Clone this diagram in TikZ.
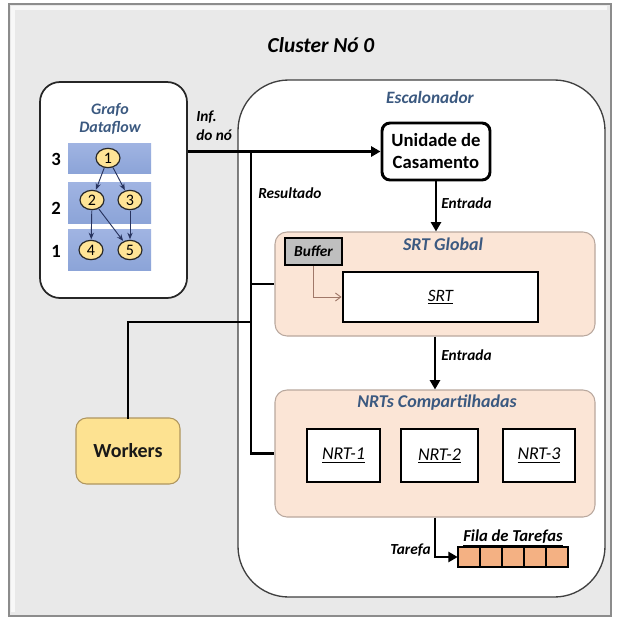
\documentclass[tikz,border=0pt]{standalone}
\usepackage{fontspec}
\setmainfont{Carlito}
\usetikzlibrary{arrows.meta,fit,shapes.geometric}
\definecolor{bgray}{RGB}{233,233,233}
\definecolor{frameline}{RGB}{140,140,140}
\definecolor{ttl}{RGB}{59,89,128}
\definecolor{peach}{RGB}{251,229,214}
\definecolor{peachb}{RGB}{185,168,158}
\definecolor{bandc}{RGB}{140,164,216}
\definecolor{bandtop}{RGB}{160,180,226}
\definecolor{ylw}{RGB}{255,228,150}
\definecolor{wkc}{RGB}{253,226,145}
\definecolor{wkb}{RGB}{175,150,95}
\definecolor{qc}{RGB}{244,177,131}
\definecolor{bufc}{RGB}{191,191,191}
\definecolor{dfarr}{RGB}{40,52,95}
\definecolor{bufarr}{RGB}{160,120,105}
\begin{document}
\begin{tikzpicture}[x=0.75pt,y=-0.75pt,
  fitbox/.style={inner sep=0pt},
  thickbox/.style={draw=black,line width=2.2pt,fill=white,inner sep=0pt},
  peachbox/.style={draw=peachb,line width=0.8pt,fill=peach,rounded corners=9pt,inner sep=0pt},
  conn/.style={line width=2.2pt,draw=black},
  arr/.style={conn,-{Triangle[length=7pt,width=7.5pt]}},
  lbl/.style={font=\fontsize{11.5}{13}\selectfont\bfseries\itshape,inner sep=0pt},
  ttlstyle/.style={font=\fontsize{13.5}{15}\selectfont\bfseries\itshape,text=ttl,inner sep=0pt},
  dfnode/.style={ellipse,draw=black!85,line width=0.9pt,fill=ylw,minimum width=18pt,minimum height=14.5pt,inner sep=0pt,font=\fontsize{12}{13}\selectfont},
  dfarrow/.style={draw=dfarr,line width=0.7pt,-{Stealth[length=5pt,width=4pt]},shorten <=0.3pt,shorten >=0.3pt},
  band/.style={top color=bandtop,bottom color=bandc,draw=none,inner sep=0pt},
  lvl/.style={font=\fontsize{14}{16}\selectfont\bfseries,inner sep=0pt},
  qcell/.style={draw=black,line width=1.3pt,fill=qc,inner sep=0pt}
]
\useasboundingbox (0,0) rectangle (617,618);
% outer frame
\node[fitbox,draw=frameline,line width=1pt,fill=bgray,fit={(9,4)(611,616)}] (frame) {};
\draw[white!70!bgray,line width=3pt] (13,612) -- (13,8) -- (607,8);
\node[font=\fontsize{16}{18}\selectfont\bfseries\itshape,inner sep=0pt] (title) at (321,45) {Cluster Nó 0};

% Escalonador
\node[fitbox,draw=black!75,line width=1pt,fill=white,rounded corners=38pt,fit={(238,80)(605,597)}] (esc) {};
\node[ttlstyle,font=\fontsize{13}{15}\selectfont\bfseries\itshape] (esct) at (430,97) {Escalonador};

% Dataflow graph box
\node[fitbox,draw=black!85,line width=1.3pt,fill=white,rounded corners=15pt,fit={(40,82)(187,298)}] (df) {};
\node[ttlstyle,font=\fontsize{12}{14}\selectfont\bfseries\itshape,align=center] (dft) at (110,119) {Grafo\\Dataflow};
\node[band,fit={(68,143)(151,173)}] (b3) {};
\node[band,fit={(68,182)(151,223)}] (b2) {};
\node[band,fit={(68,229)(151,270)}] (b1) {};
\node[lvl] (l3) at (56,159) {3};
\node[lvl] (l2) at (56,208) {2};
\node[lvl] (l1) at (56,251) {1};
\node[dfnode] (d1) at (108,158) {1};
\node[dfnode] (d2) at (92,200) {2};
\node[dfnode] (d3) at (130,200) {3};
\node[dfnode] (d4) at (91,250) {4};
\node[dfnode] (d5) at (130,250) {5};
\draw[dfarrow] (d1) -- (d2);
\draw[dfarrow] (d1) -- (d3);
\draw[dfarrow] (d2) -- (d4);
\draw[dfarrow] (d2) -- (d5);
\draw[dfarrow] (d3) -- (d5);

% Unidade de Casamento
\node[thickbox,rounded corners=6pt,fit={(382,123)(490,180)}] (uc) {};
\node[font=\fontsize{14}{16.5}\selectfont\bfseries,align=center,inner sep=0pt] (uct) at (uc.center) {Unidade de\\Casamento};

% SRT Global
\node[peachbox,fit={(275,232)(595,336)}] (srtg) {};
\node[ttlstyle] (srtgt) at (443,244) {SRT Global};
\node[draw=black,line width=2pt,fill=bufc,inner sep=0pt,fit={(285,238)(342,265)}] (buf) {};
\node[font=\fontsize{11.5}{13}\selectfont\bfseries\itshape,inner sep=0pt] (buft) at (buf.center) {Buffer};
\node[thickbox,fit={(343,272)(538,322)}] (srt) {};
\node[font=\fontsize{13}{15}\selectfont\itshape,inner sep=0pt] (srtt) at (srt.center) {\underline{SRT}};
\draw[draw=bufarr,line width=0.7pt,-{Straight Barb[length=4pt,width=6pt]}] (buf.south) |- (srt.west);

% NRTs Compartilhadas
\node[peachbox,fit={(275,390)(595,517)}] (nrtg) {};
\node[ttlstyle] (nrtgt) at (437,403) {NRTs Compartilhadas};
\node[thickbox,fit={(307,429)(380,482)}] (n1) {};
\node[thickbox,fit={(401,429)(478,482)}] (n2) {};
\node[thickbox,fit={(503,429)(575,482)}] (n3) {};
\node[font=\fontsize{13.5}{15}\selectfont\itshape,inner sep=0pt] (n1t) at (n1.center) {\underline{NRT-1}};
\node[font=\fontsize{13.5}{15}\selectfont\itshape,inner sep=0pt] (n2t) at (n2.center) {\underline{NRT-2}};
\node[font=\fontsize{13.5}{15}\selectfont\itshape,inner sep=0pt] (n3t) at (n3.center) {\underline{NRT-3}};

% Fila de Tarefas
\node[qcell,fit={(458,547)(480,567)}] (q1) {};
\node[qcell,fit={(480,547)(502,567)}] (q2) {};
\node[qcell,fit={(502,547)(524,567)}] (q3) {};
\node[qcell,fit={(524,547)(546,567)}] (q4) {};
\node[qcell,fit={(546,547)(568,567)}] (q5) {};
\node[fitbox,fit={(458,547)(568,567)}] (queue) {};
\node[font=\fontsize{12.5}{14}\selectfont\bfseries\itshape,inner sep=0pt] (qt) at (513,538) {\underline{Fila de Tarefas}};

% Workers
\node[fitbox,draw=wkb,line width=0.8pt,fill=wkc,rounded corners=8pt,fit={(76,418)(180,484)}] (wk) {};
\node[font=\fontsize{15}{17}\selectfont\bfseries,text=black!90,inner sep=0pt] (wkt) at (wk.center) {Workers};

% connectors
\coordinate (j1) at (251,151.5);
\coordinate (j2) at (251,322);
\draw[arr] (df.east |- uc.west) -- (uc.west);
\draw[conn] (j1) |- (nrtg.west);
\draw[conn] (j1 |- srtg.west) -- (srtg.west);
\draw[conn,line cap=rect] (j2) -| (wk.north);
\draw[arr] (uc.south) -- (uc.south |- srtg.north);
\draw[arr] (srtg.south) -- (nrtg.north);
\draw[arr] (nrtg.south) |- (queue.west);

% labels
\node[lbl,anchor=west,align=left] (inf) at (196,126) {Inf.\\[1pt]do nó};
\node[lbl,anchor=west] (res) at (258,193) {Resultado};
\node[lbl,anchor=west] (ent1) at (441,203) {Entrada};
\node[lbl,anchor=west] (ent2) at (441,355) {Entrada};
\node[lbl,anchor=east] (tar) at (431,550) {Tarefa};
\end{tikzpicture}
\end{document}
